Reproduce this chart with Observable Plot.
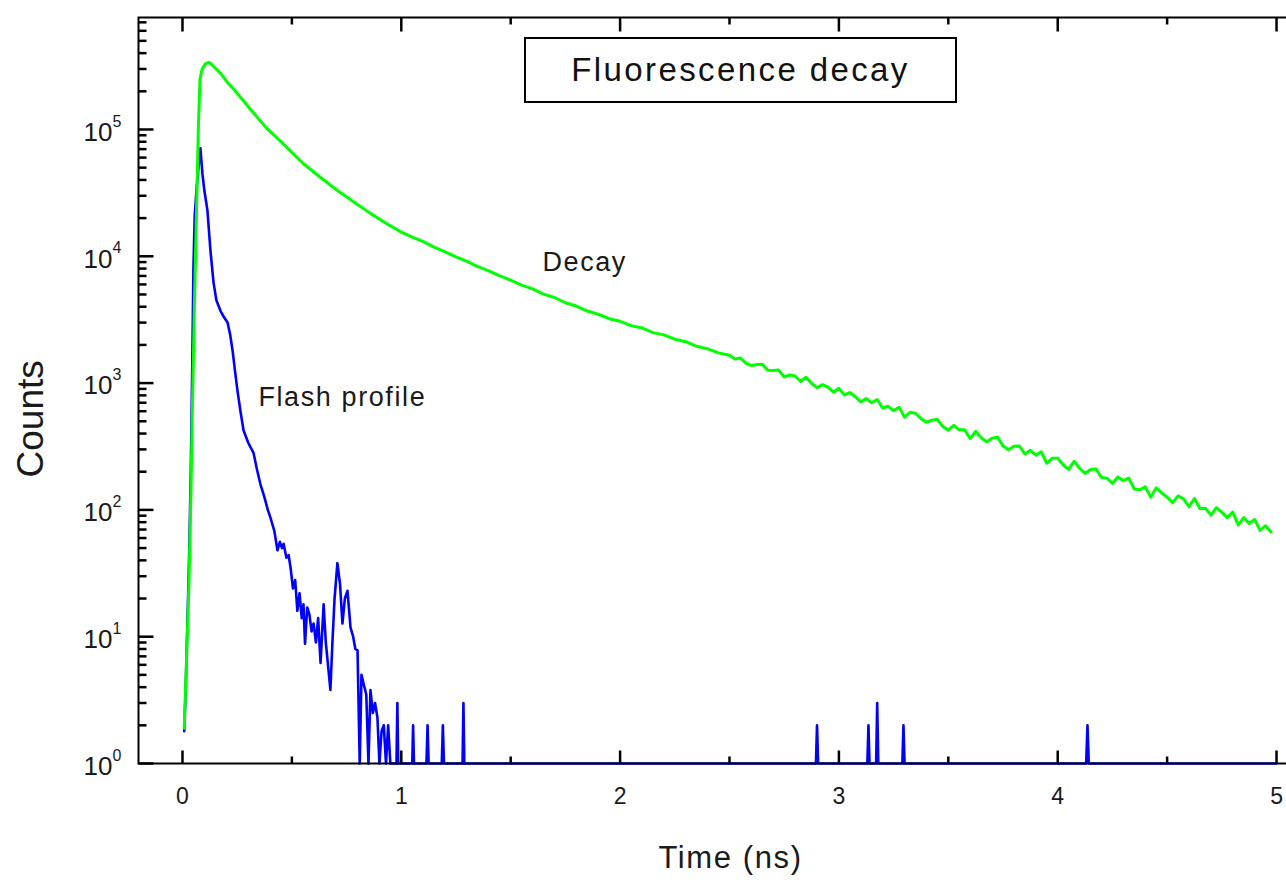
<!DOCTYPE html>
<html>
<head>
<meta charset="utf-8">
<script src="https://cdn.jsdelivr.net/npm/d3@7"></script>
<script src="https://cdn.jsdelivr.net/npm/@observablehq/plot@0.6"></script>
<style>
html, body { margin: 0; padding: 0; background: #fff; }
#wrap { position: relative; width: 1286px; height: 880px; overflow: hidden; background: #fff; }
#chart { position: absolute; left: 0; top: 0; width: 1300px; }
#chart svg { max-width: none !important; }
#title {
  position: absolute; left: 524px; top: 37px; width: 433px; height: 66px;
  box-sizing: border-box; border: 2px solid #000; background: #fff;
  display: flex; align-items: center; justify-content: center;
  font-family: "Liberation Sans", Arial, sans-serif; font-size: 33px; letter-spacing: 2.4px; color: #111;
}
</style>
</head>
<body>
<div id="wrap"><div id="chart"></div><div id="title">Fluorescence decay</div></div>
<script>
// ---- Data ----
const decayT = [
  0.008, 0.02, 0.03, 0.038, 0.045, 0.055, 0.064, 0.073, 0.08, 0.09, 0.105, 0.123, 0.15, 0.174, 0.21, 0.251,
  0.30, 0.343, 0.39, 0.448, 0.50, 0.553, 0.63, 0.708, 0.78, 0.859, 0.93,
  1.00, 1.05, 1.10, 1.15, 1.20, 1.25, 1.30, 1.35, 1.40, 1.45, 1.50, 1.55, 1.60, 1.65, 1.70, 1.75,
  1.80, 1.85, 1.90, 1.95, 2.00, 2.05, 2.10, 2.15, 2.20, 2.25, 2.30, 2.35, 2.40, 2.45,
  2.500, 2.525, 2.550, 2.575, 2.600, 2.625, 2.650, 2.675, 2.700, 2.725, 2.750, 2.775, 2.800, 2.825, 2.850, 2.875,
  2.900, 2.925, 2.950, 2.975, 3.000, 3.025, 3.050, 3.075, 3.100, 3.125, 3.150, 3.175, 3.200, 3.225, 3.250, 3.275,
  3.300, 3.325, 3.350, 3.375, 3.400, 3.425, 3.450, 3.475, 3.500, 3.525, 3.550, 3.575, 3.600, 3.625, 3.650, 3.675,
  3.700, 3.725, 3.750, 3.775, 3.800, 3.825, 3.850, 3.875, 3.900, 3.925, 3.950, 3.975, 4.000, 4.025, 4.050, 4.075,
  4.100, 4.125, 4.150, 4.175, 4.200, 4.225, 4.250, 4.275, 4.300, 4.325, 4.350, 4.375, 4.400, 4.425, 4.450, 4.475,
  4.500, 4.525, 4.550, 4.575, 4.600, 4.625, 4.650, 4.675, 4.700, 4.725, 4.750, 4.775, 4.800, 4.825, 4.850, 4.875,
  4.900, 4.925, 4.950, 4.975
];
const decayCounts = [
  1.9, 8, 28, 120, 600, 4500, 22000, 110000, 250000, 300000, 330000, 338000, 305000, 277000, 230000, 192000,
  152000, 124000, 100000, 81000, 66000, 53700, 42000, 33000, 27000, 21800, 18200,
  15500, 14150, 13050, 11800, 10850, 9880, 9130, 8280, 7680, 7020, 6480, 5930, 5530, 5030, 4730, 4300,
  4050, 3700, 3490, 3220, 3070, 2840, 2720, 2500, 2400, 2220, 2120, 1950, 1860, 1730,
  1659, 1550, 1576, 1436, 1373, 1400, 1407, 1263, 1257, 1267, 1117, 1158, 1137, 1029, 1111, 993,
  920, 972, 928, 848, 909, 807, 842, 781, 711, 756, 699, 742, 636, 656, 606, 645,
  539, 588, 578, 525, 491, 510, 518, 454, 425, 464, 428, 428, 365, 417, 370, 345,
  367, 375, 320, 298, 318, 319, 276, 295, 270, 287, 233, 255, 256, 226, 209, 242,
  213, 194, 208, 210, 180, 178, 162, 182, 170, 178, 146, 144, 152, 126, 149, 136,
  126, 114, 129, 122, 106, 123, 102, 103, 91, 104, 96, 87, 96, 76, 87, 78,
  84, 69, 75, 67
];
const flashT = [
  0.008, 0.015, 0.022, 0.03, 0.038, 0.045, 0.05, 0.056, 0.065, 0.075, 0.082, 0.091, 0.10, 0.114, 0.128, 0.142,
  0.155, 0.174, 0.19, 0.206, 0.218, 0.229, 0.24, 0.251, 0.265, 0.279, 0.30, 0.325, 0.34, 0.356, 0.375, 0.39,
  0.402, 0.42, 0.434, 0.445, 0.455, 0.462, 0.475, 0.485, 0.494, 0.505, 0.515, 0.525, 0.535, 0.545, 0.553, 0.56,
  0.57, 0.58, 0.59, 0.599, 0.61, 0.62, 0.631, 0.645, 0.655, 0.665, 0.676, 0.685, 0.695, 0.708, 0.72, 0.731,
  0.742, 0.754, 0.768, 0.78, 0.79, 0.80, 0.81, 0.818, 0.827, 0.84, 0.85, 0.859, 0.87, 0.88, 0.891, 0.90,
  0.91, 0.92, 0.93, 0.94, 0.95, 0.978, 0.982, 0.986, 1.050, 1.054, 1.058, 1.115, 1.120, 1.125, 1.185, 1.190,
  1.195, 1.280, 1.284, 1.288, 2.895, 2.900, 2.905, 3.130, 3.135, 3.140, 3.170, 3.175, 3.180, 3.290, 3.295, 3.300,
  4.130, 4.136, 4.142, 5.0
];
const flashCounts = [
  1.8, 4, 12, 40, 200, 1500, 8000, 21000, 35000, 55000, 71000, 45000, 33000, 23000, 11000, 6200,
  4500, 3700, 3300, 3000, 2400, 1800, 1250, 880, 600, 425, 340, 280, 210, 160, 125, 100,
  87, 68, 48, 56, 50, 54, 42, 44, 35, 24, 28, 16, 22, 14, 18, 8.8,
  17, 15, 11, 12.7, 9, 14, 6.2, 18, 9, 6, 3.8, 8.8, 20, 38, 26, 12.7,
  20, 23, 11.8, 10, 8, 7.8, 1, 5, 4.3, 3.5, 1, 3.8, 2.5, 3, 2.3, 1,
  1.8, 2, 1, 2, 1, 1, 3, 1, 1, 2, 1, 1, 2, 1, 1, 2,
  1, 1, 3, 1, 1, 2, 1, 1, 2, 1, 1, 3, 1, 1, 2, 1,
  1, 2, 1, 1
];
const xMajor = [0, 1, 2, 3, 4, 5];
const xMinor = [0.5, 1.5, 2.5, 3.5, 4.5];
const yMajor = [1, 10, 100, 1000, 10000, 100000];
const yExponents = ["0", "1", "2", "3", "4", "5"];
const yMinor = [
  2, 3, 4, 5, 6, 7, 8, 9,
  20, 30, 40, 50, 60, 70, 80, 90,
  200, 300, 400, 500, 600, 700, 800, 900,
  2000, 3000, 4000, 5000, 6000, 7000, 8000, 9000,
  20000, 30000, 40000, 50000, 60000, 70000, 80000, 90000,
  200000, 300000, 400000, 500000, 600000, 700000
];
const annotations = [
  {label: "Decay", t: 1.645, v: 8930},
  {label: "Flash profile", t: 0.347, v: 769}
];

const decay = decayT.map((t, i) => ({t, v: decayCounts[i]}));
const flash = flashT.map((t, i) => ({t, v: flashCounts[i]}));

const W = 1300, H = 880;
const mL = 138, mR = 8, mT = 17, mB = 117;
const frameW = W - mL - mR, frameH = H - mT - mB;
const xDom = [-0.201, 5.073];
const yDom = [1, 7.64e5];
// convert a pixel tick length into scale units, so ticks keep a fixed pixel size
const xUnitsPerPx = (xDom[1] - xDom[0]) / frameW;
const decadesPerPx = Math.log10(yDom[1] / yDom[0]) / frameH;
const yUp = px => yDom[0] * Math.pow(10, px * decadesPerPx);
const yDown = px => yDom[1] / Math.pow(10, px * decadesPerPx);
const xIn = px => xDom[0] + px * xUnitsPerPx;

const font = "'Liberation Sans', Arial, Helvetica, sans-serif";
const ink = "#1a1a1a";
const tick = {stroke: "#000", strokeWidth: 2.5};

const chart = Plot.plot({
  width: W,
  height: H,
  marginLeft: mL,
  marginRight: mR,
  marginTop: mT,
  marginBottom: mB,
  style: {fontFamily: font, background: "white", color: ink, maxWidth: "none"},
  x: {domain: xDom, axis: null},
  y: {type: "log", domain: yDom, axis: null},
  marks: [
    Plot.line(flash, {x: "t", y: "v", stroke: "#0000ff", strokeWidth: 2.6}),
    Plot.line(decay, {x: "t", y: "v", stroke: "#00ff00", strokeWidth: 3}),
    Plot.frame({stroke: "#000", strokeWidth: 2}),
    // inward ticks
    Plot.link(xMajor, {x1: d => d, x2: d => d, y1: () => yDom[0], y2: () => yUp(13), ...tick}),
    Plot.link(xMinor, {x1: d => d, x2: d => d, y1: () => yDom[0], y2: () => yUp(7), ...tick}),
    Plot.link(xMajor, {x1: d => d, x2: d => d, y1: () => yDom[1], y2: () => yDown(14), ...tick}),
    Plot.link(xMinor, {x1: d => d, x2: d => d, y1: () => yDom[1], y2: () => yDown(7), ...tick}),
    Plot.link(yMajor, {y1: d => d, y2: d => d, x1: () => xDom[0], x2: () => xIn(15), ...tick}),
    Plot.link(yMinor, {y1: d => d, y2: d => d, x1: () => xDom[0], x2: () => xIn(8), ...tick}),
    // x tick labels
    Plot.text(xMajor, {x: d => d, frameAnchor: "bottom", text: d => String(d), lineAnchor: "top", dy: 24, fontSize: 23, fill: ink}),
    // y tick labels: 10 with superscript exponent
    Plot.text(yMajor, {y: d => d, frameAnchor: "left", text: () => "10", textAnchor: "end", dx: -26, dy: 3, fontSize: 26, fill: ink}),
    Plot.text(yMajor, {y: d => d, frameAnchor: "left", text: (d, i) => yExponents[i], textAnchor: "start", dx: -26, dy: -8, fontSize: 16, fill: ink}),
    // axis titles
    Plot.text(["Time (ns)"], {frameAnchor: "bottom", text: d => d, dx: 15, dy: 104, fontSize: 31, fill: ink}),
    Plot.text(["Counts"], {frameAnchor: "left", text: d => d, rotate: -90, dx: -107, dy: 87, fontSize: 37, fill: ink}),
    // curve annotations
    Plot.text(annotations, {x: "t", y: "v", text: "label", textAnchor: "start", fontSize: 27, fill: ink})
  ]
});
document.getElementById("chart").appendChild(chart);
d3.select(chart).selectAll("text")
  .filter(function() { return ["Decay", "Flash profile", "Time (ns)"].includes(this.textContent); })
  .attr("letter-spacing", "1.6px");
</script>
</body>
</html>
